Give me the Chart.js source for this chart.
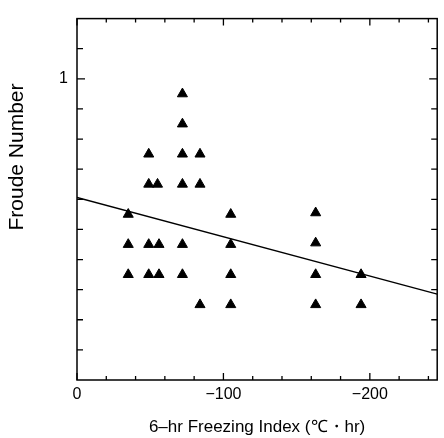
<!DOCTYPE html>
<html>
<head>
<meta charset="utf-8">
<script src="https://cdn.jsdelivr.net/npm/chart.js@4.4.1/dist/chart.umd.min.js"></script>
<style>
  html, body { margin: 0; padding: 0; background: #fff; }
  #wrap { width: 444px; height: 438px; }
</style>
</head>
<body>
<div id="wrap"><canvas id="froude"></canvas></div>
<script>
// observations: freezing index (°C·hr) vs Froude number
const freezeIdx = [
  -72, -72,
  -49, -72, -84,
  -49, -55, -72, -84,
  -35, -105, -163,
  -35, -49, -56, -72, -105, -163,
  -35, -49, -56, -72, -105, -163, -194,
  -84, -105, -163, -194
];
const froude = [
  0.95, 0.85,
  0.75, 0.75, 0.75,
  0.65, 0.65, 0.65, 0.65,
  0.55, 0.55, 0.555,
  0.45, 0.45, 0.45, 0.45, 0.45, 0.455,
  0.35, 0.35, 0.35, 0.35, 0.35, 0.35, 0.35,
  0.25, 0.25, 0.25, 0.25
];
// fitted line end points
const fitX = [0, -246];
const fitY = [0.606, 0.285];
// labelled ticks
const xLabels = [0, -100, -200];
const yLabels = [1];
const yTitle = "Froude Number";

const FONT = "'Liberation Sans', Arial, sans-serif";

// ticks pointing inward on all four sides, the box, and the y title
const frameTicks = {
  id: "frameTicks",
  afterDraw(chart) {
    const { ctx, chartArea: a, scales } = chart;
    ctx.save();
    ctx.strokeStyle = "#000";
    ctx.lineWidth = 1.5;
    ctx.strokeRect(a.left, a.top, a.right - a.left, a.bottom - a.top);
    ctx.lineWidth = 1.3;
    ctx.beginPath();
    for (let v = 0; v >= -240; v -= 20) {
      const px = scales.x.getPixelForValue(v);
      const len = v % 100 === 0 ? 7 : 4;
      ctx.moveTo(px, a.bottom); ctx.lineTo(px, a.bottom - len);
      ctx.moveTo(px, a.top); ctx.lineTo(px, a.top + len);
    }
    for (let i = 1; i < 12; i++) {
      const py = scales.y.getPixelForValue(i / 10);
      const len = i === 10 ? 8 : 6;
      ctx.moveTo(a.left, py); ctx.lineTo(a.left + len, py);
      ctx.moveTo(a.right, py); ctx.lineTo(a.right - len, py);
    }
    ctx.stroke();

    // y title sits above centre in the original
    ctx.translate(17, 157);
    ctx.rotate(-Math.PI / 2);
    ctx.fillStyle = "#000";
    ctx.font = "21px " + FONT;
    ctx.textAlign = "center";
    ctx.textBaseline = "middle";
    ctx.fillText(yTitle, 0, 0);
    ctx.restore();
  }
};

new Chart(document.getElementById("froude"), {
  type: "scatter",
  data: {
    datasets: [
      {
        data: freezeIdx.map((x, i) => ({ x: x, y: froude[i] })),
        pointStyle: "triangle",
        radius: 5.8,
        backgroundColor: "#000",
        borderColor: "#000",
        borderWidth: 1
      },
      {
        type: "line",
        data: fitX.map((x, i) => ({ x: x, y: fitY[i] })),
        borderColor: "#000",
        borderWidth: 1.3,
        pointRadius: 0,
        fill: false
      }
    ]
  },
  options: {
    responsive: true,
    maintainAspectRatio: false,
    animation: false,
    layout: { padding: { top: 12, right: 3, left: 0, bottom: 0 } },
    plugins: { legend: { display: false }, tooltip: { enabled: false } },
    scales: {
      x: {
        type: "linear",
        reverse: true,
        min: -246,
        max: 0,
        afterFit: (s) => { s.height = 58; },
        grid: { display: false, drawTicks: false },
        border: { display: false },
        ticks: {
          stepSize: 20,
          padding: 5,
          autoSkip: false,
          maxRotation: 0,
          color: "#000",
          font: { family: FONT, size: 16 },
          callback: (v) => xLabels.includes(v) ? (v === 0 ? "0" : "\u2212" + Math.abs(v)) : ""
        },
        title: {
          display: true,
          text: "6\u2013hr Freezing Index (\u2103\u30fbhr)",
          color: "#000",
          font: { family: FONT, size: 17 },
          padding: { top: 4, bottom: 0 }
        }
      },
      y: {
        min: 0,
        max: 1.2,
        afterFit: (s) => { s.width = 77; },
        grid: { display: false, drawTicks: false },
        border: { display: false },
        ticks: {
          stepSize: 0.1,
          padding: 9,
          autoSkip: false,
          color: "#000",
          font: { family: FONT, size: 16 },
          callback: (v) => yLabels.some((l) => Math.abs(l - v) < 1e-6) ? "1" : ""
        }
      }
    }
  },
  plugins: [frameTicks]
});
</script>
</body>
</html>
